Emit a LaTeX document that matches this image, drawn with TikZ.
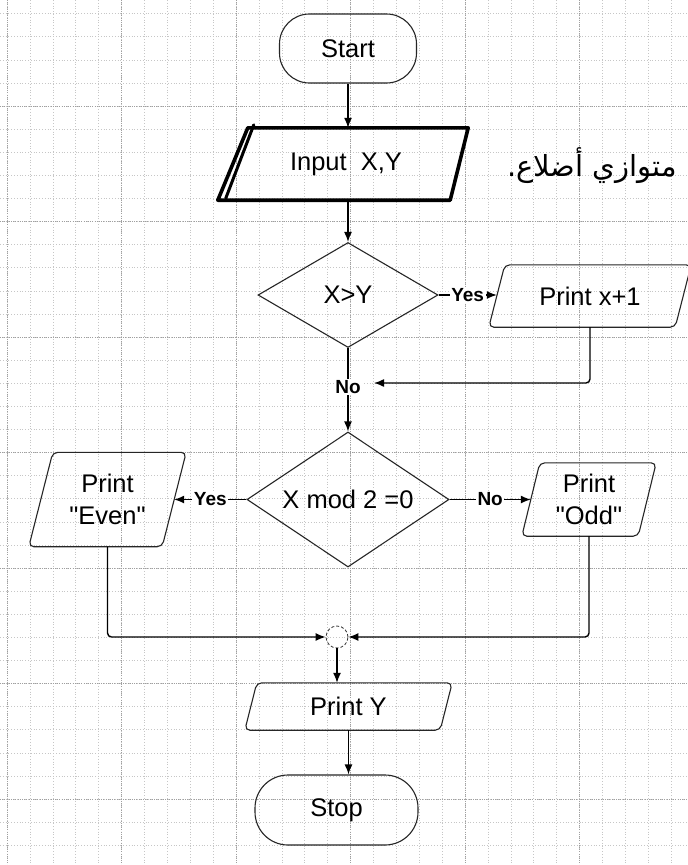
\documentclass[tikz,border=0pt]{standalone}
\usepackage{fontspec}
\setmainfont{Liberation Sans}
\newfontfamily\arabicfont[Script=Arabic]{DejaVu Sans}
\TeXXeTstate=1
\usetikzlibrary{shapes.geometric,arrows.meta,calc}
\newcommand\sq{\XeTeXglyph\XeTeXcharglyph"22\relax}
\newcommand\drawpara[2]{%
  \draw[shapeline, rounded corners=5pt] ([xshift=#2]#1.north west) -- ([xshift=#2]#1.north east) -- ([xshift=-#2]#1.south east) -- ([xshift=-#2]#1.south west) -- cycle;}
\tikzset{
  gridminor/.style={draw=gray!45, line width=0.5pt, dash pattern=on 0.8pt off 2pt},
  gridmajor/.style={draw=gray!75, line width=0.6pt, dash pattern=on 0.8pt off 1.4pt},
  shapeline/.style={draw=black!85, line width=1.1pt},
  mainfont/.style={font=\fontsize{25.5}{32}\selectfont},
  term/.style={shapeline, mainfont, rounded corners=30pt, inner sep=0pt},
  databox/.style={mainfont, inner sep=0pt, align=center},
  decision/.style={diamond, aspect=1.5, shapeline, mainfont, inner sep=0pt},
  junction/.style={circle, draw=black!80, line width=0.8pt, densely dashed, minimum size=22pt, inner sep=0pt},
  flow/.style={draw=black, line width=1.4pt, -{Latex[length=10pt,width=8pt]}},
  link/.style={draw=black, line width=1.4pt},
  branch/.style={fill=white, inner sep=1.5pt, font=\bfseries\fontsize{19}{22}\selectfont},
}
\begin{document}
\begin{tikzpicture}[x=1pt,y=-1pt]
\useasboundingbox (0,0) rectangle (688,865);
\fill[white] (0,0) rectangle (688,865);
% graph paper
\foreach \k in {0,...,29} {\pgfmathsetmacro\gx{7+22.9*\k}\draw[gridminor] (\gx,0) -- (\gx,865);}
\foreach \k in {0,...,36} {\pgfmathsetmacro\gy{13.6+23.1*\k}\draw[gridminor] (0,\gy) -- (688,\gy);}
\foreach \k in {0,5,...,25} {\pgfmathsetmacro\gx{7+22.9*\k}\draw[gridmajor] (\gx,0) -- (\gx,865);}
\foreach \k in {4,9,...,34} {\pgfmathsetmacro\gy{13.6+23.1*\k}\draw[gridmajor] (0,\gy) -- (688,\gy);}

% nodes
\node[term, minimum width=137pt, minimum height=69pt] (start) at (348,48.5) {Start};
\node[databox, minimum width=224pt, minimum height=72pt] (input) at (346,164) {Input\ \ X,Y};
\draw[line width=3.6pt, line join=round, line cap=round] ([xshift=14pt]input.north west) -- ([xshift=10pt]input.north east) -- ([xshift=-8pt]input.south east) -- ([xshift=-16pt]input.south west) -- cycle;
\draw[line width=3pt, line cap=round] ([xshift=-8pt,yshift=2pt]input.south west) -- ([xshift=20pt,yshift=3pt]input.north west);
\node[font=\arabicfont\fontsize{29}{32}\selectfont, inner sep=0pt] (arabic) at (592,166) {\beginR متوازي أضلاع.\endR};

\node[decision, minimum width=180pt, minimum height=105pt] (d1) at (348,295) {X>Y};
\node[databox, minimum width=186pt, minimum height=62pt] (px) at (590,296) {Print x+1};
\drawpara{px}{8pt}
\node[branch] (nolab) at (348,387) {No};
\coordinate (noin) at (374,383);

\node[decision, minimum width=202pt, minimum height=135pt] (d2) at (348,499.5) {X mod 2 =0};
\node[databox, minimum width=133pt, minimum height=94pt] (even) at (107.5,499.5) {Print\\\sq Even\sq};
\drawpara{even}{12pt}
\node[databox, minimum width=116pt, minimum height=73pt] (odd) at (589,499.5) {Print\\\sq Odd\sq};
\drawpara{odd}{9pt}

\node[junction] (jn) at (337,637) {};
\node[databox, minimum width=195pt, minimum height=47pt] (py) at (348.5,706.5) {Print Y};
\drawpara{py}{6pt}
\node[term, rounded corners=33pt, minimum width=163pt, minimum height=70pt] (stop) at (336.5,810) {Stop};

% connectors
\draw[flow] (start.south) -- (start.south |- input.north);
\draw[flow] (input.south -| d1) -- (d1.north);
\draw[flow] (d1.east) -- node[branch] {Yes} (d1.east -| px.west);
\draw[link] (d1.south) -- (nolab.north);
\draw[flow] (nolab.south) -- (d2.north);
\draw[flow, rounded corners=4pt] (px.south) |- (noin);
\draw[flow] (d2.west) -- node[branch] {Yes} (d2.west -| even.east);
\draw[flow] (d2.east) -- node[branch] {No} (d2.east -| odd.west);
\draw[flow, rounded corners=4pt] (even.south) |- (jn.west);
\draw[flow, rounded corners=4pt] (odd.south) |- (jn.east);
\draw[flow] (jn.south) -- (jn.south |- py.north);
\draw[flow] (py.south) -- (py.south |- stop.north);
\end{tikzpicture}
\end{document}
